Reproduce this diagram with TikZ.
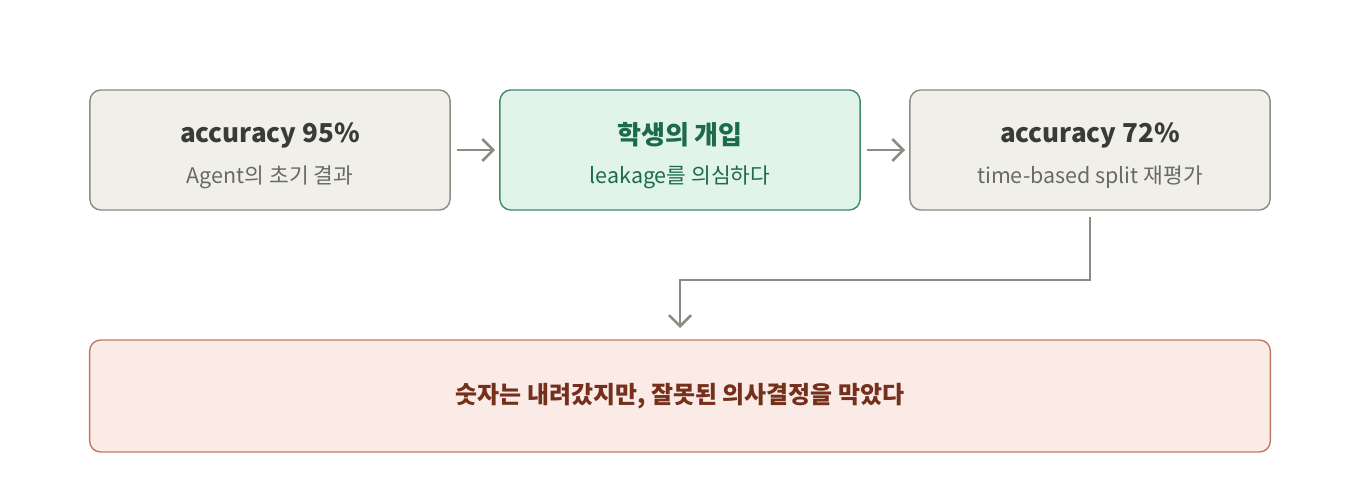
\documentclass[tikz,border=0pt]{standalone}
\usepackage{fontspec}
\setmainfont{Noto Sans CJK KR}
\usetikzlibrary{arrows.meta}
\definecolor{boxgray}{HTML}{F0EFEA}
\definecolor{linegray}{HTML}{8C8C84}
\definecolor{textgray}{HTML}{3A3A36}
\definecolor{subgray}{HTML}{6A6A64}
\definecolor{mint}{HTML}{E1F4EC}
\definecolor{mintline}{HTML}{3E8C6C}
\definecolor{minttext}{HTML}{1E6A4E}
\definecolor{peach}{HTML}{FAEBE6}
\definecolor{peachline}{HTML}{C07A66}
\definecolor{peachtext}{HTML}{74301C}
\tikzset{>=Stealth}
\tikzset{%
    stagebox/.style={draw=linegray,fill=boxgray,rounded corners=1.1mm,line width=0.4pt,
        minimum width=3.6cm,minimum height=1.2cm},
    flow/.style={->,draw=linegray,line width=0.75pt,
        >={Straight Barb[length=1.1mm,width=2.2mm]}}
}
\begin{document}
\begin{tikzpicture}[x=0.01cm,y=-0.01cm]
    \useasboundingbox (0,0) rectangle (1360,500);
    \node[stagebox] (first) at (270,150) {};
    \node[stagebox,fill=mint,draw=mintline] (student) at (680,150) {};
    \node[stagebox] (final) at (1090,150) {};
    \node[stagebox,fill=peach,draw=peachline,minimum width=11.8cm,minimum height=1.12cm] (result) at (680,396) {};

    \node[textgray] (t1) at (270,135) {\fontsize{7.4}{9}\selectfont\bfseries accuracy 95\%};
    \node[subgray] (s1) at (270,177) {\fontsize{6.1}{8}\selectfont Agent의 초기 결과};
    \node[minttext] (t2) at (680,135) {\fontsize{7.4}{9}\selectfont\bfseries 학생의 개입};
    \node[minttext] (s2) at (680,177) {\fontsize{6.1}{8}\selectfont leakage를 의심하다};
    \node[textgray] (t3) at (1090,135) {\fontsize{7.4}{9}\selectfont\bfseries accuracy 72\%};
    \node[subgray] (s3) at (1090,177) {\fontsize{6.1}{8}\selectfont time-based split 재평가};
    \node[peachtext] (t4) at (680,396) {\fontsize{6.8}{9}\selectfont\bfseries 숫자는 내려갔지만, 잘못된 의사결정을 막았다};

    \draw[flow] ([xshift=0.06cm]first.east) -- ([xshift=-0.04cm]student.west);
    \draw[flow] ([xshift=0.06cm]student.east) -- ([xshift=-0.04cm]final.west);
    \coordinate (drop) at (680,328);
    \draw[flow] ([yshift=-0.06cm]final.south) -- (1090,280) -- (680,280) -- (drop);
\end{tikzpicture}
\end{document}
